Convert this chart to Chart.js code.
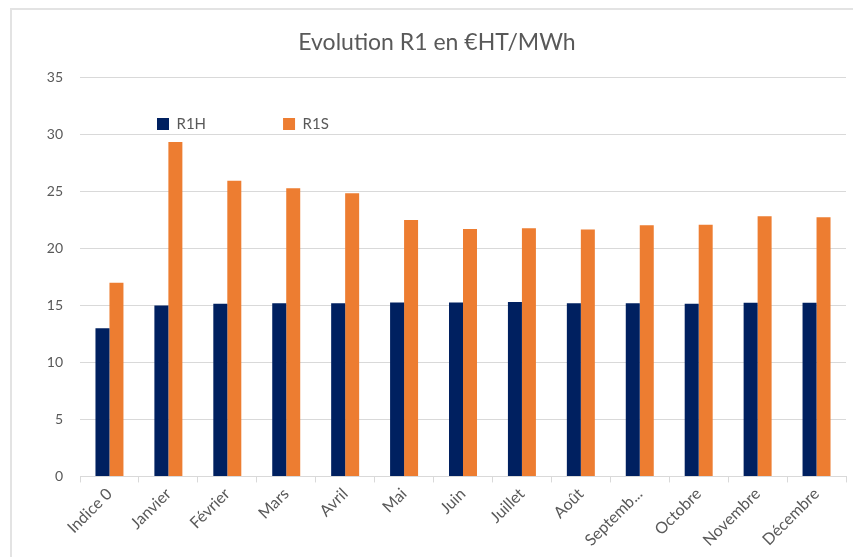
<!DOCTYPE html>
<html lang="fr">
<head>
<meta charset="utf-8">
<title>Evolution R1 en €HT/MWh</title>
<script src="https://cdn.jsdelivr.net/npm/chart.js@4.4.1/dist/chart.umd.min.js"></script>
<style>
    html, body { margin: 0; padding: 0; background: #fff; }
    .cadre { position: absolute; left: 10px; top: 8px; width: 900px; height: 600px; border: 2px solid #e3e3e3; }
    #r1Chart { position: absolute; left: 0; top: 0; }
</style>
</head>
<body>
<div class="cadre"></div>
<canvas id="r1Chart" width="853" height="557"></canvas>

<script>
    // Catégories (mois) et valeurs
    const mois = ['Indice 0', 'Janvier', 'Février', 'Mars', 'Avril', 'Mai', 'Juin', 'Juillet', 'Août', 'Septembre', 'Octobre', 'Novembre', 'Décembre'];
    const r1h = [13.0, 15.0, 15.15, 15.2, 15.2, 15.27, 15.27, 15.3, 15.19, 15.19, 15.15, 15.24, 15.24];
    const r1s = [17.0, 29.35, 25.94, 25.3, 24.86, 22.5, 21.72, 21.78, 21.66, 22.05, 22.08, 22.84, 22.75];
    const ticksY = [0, 5, 10, 15, 20, 25, 30, 35];

    const gris = '#595959';
    const grille = '#d9d9d9';
    const police = 'Lato';

    // Légende posée à l'intérieur de la zone de tracé, comme dans Excel
    const legendeInterne = {
        id: 'legendeInterne',
        beforeLayout(chart) {
            const lg = chart.legend;
            if (lg && !lg._plate) {
                const fit = lg.fit.bind(lg);
                lg.fit = function () { fit(); this.height = 0; };
                lg._plate = true;
            }
        },
        afterLayout(chart) {
            const lg = chart.legend;
            const area = chart.chartArea;
            const pad = lg.options.labels.padding;
            lg.left = area.left;
            lg.right = area.right;
            lg.top = area.top + 39 - pad;
            lg.bottom = lg.top + 2 * pad + 30; // zone de découpe du dessin
            lg.width = lg.right - lg.left;
            lg.height = lg.bottom - lg.top;
        }
    };

    new Chart(document.getElementById('r1Chart'), {
        type: 'bar',
        data: {
            labels: mois,
            datasets: [
                { label: 'R1H', data: r1h, backgroundColor: '#002060' },
                { label: 'R1S', data: r1s, backgroundColor: '#ED7D31' }
            ]
        },
        options: {
            responsive: false,
            animation: false,
            datasets: { bar: { categoryPercentage: 0.475, barPercentage: 1 } },
            layout: { padding: { left: 28, right: 7, top: 0, bottom: 5 } },
            plugins: {
                title: {
                    display: true,
                    text: 'Evolution R1 en €HT/MWh',
                    color: gris,
                    font: { family: police, size: 23, weight: 'normal' },
                    padding: { top: 29, bottom: 21 }
                },
                legend: {
                    display: true,
                    position: 'top',
                    align: 'start',
                    labels: {
                        color: gris,
                        font: { family: police, size: 15 },
                        boxWidth: 12,
                        boxHeight: 12,
                        padding: 77
                    }
                },
                tooltip: { enabled: false }
            },
            scales: {
                x: {
                    grid: { display: true, drawOnChartArea: false, drawTicks: true, tickLength: 6, color: grille, offset: true },
                    border: { display: true, color: grille },
                    ticks: {
                        color: gris,
                        font: { family: police, size: 16 },
                        minRotation: 45,
                        maxRotation: 45,
                        padding: 2,
                        callback: function (v) {
                            const t = this.getLabelForValue(v);
                            return t.length > 8 ? t.slice(0, 7) + '...' : t;
                        }
                    }
                },
                y: {
                    min: 0,
                    max: 35,
                    afterFit: (scale) => { scale.width = 52; },
                    afterBuildTicks: (scale) => { scale.ticks = ticksY.map(v => ({ value: v })); },
                    grid: { color: grille, drawTicks: false },
                    border: { display: false },
                    ticks: { color: gris, font: { family: police, size: 14 }, padding: 17 }
                }
            }
        },
        plugins: [legendeInterne]
    });
</script>
</body>
</html>
